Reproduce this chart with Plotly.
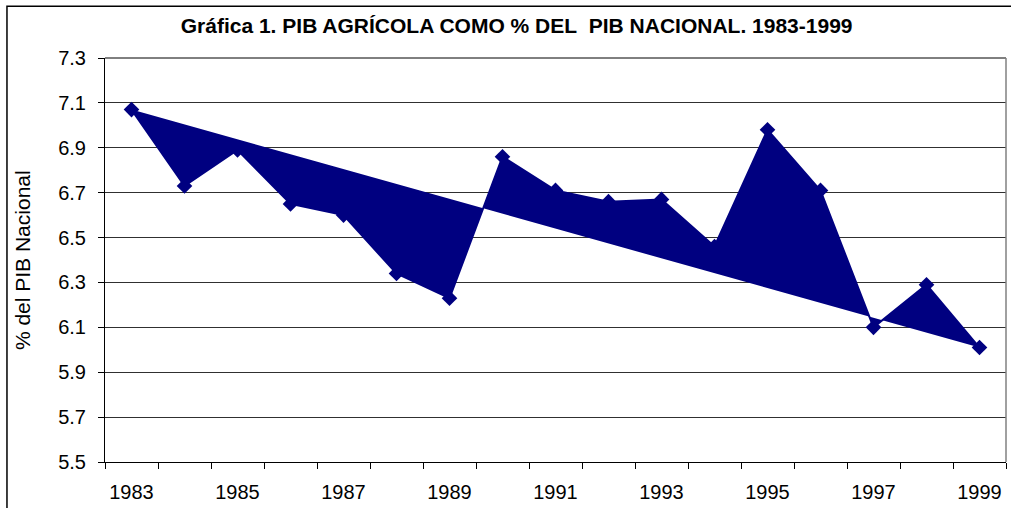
import plotly.graph_objects as go

# PIB agrícola como % del PIB nacional
years = [1983, 1984, 1985, 1986, 1987, 1988, 1989, 1990, 1991,
         1992, 1993, 1994, 1995, 1996, 1997, 1998, 1999]
pib_pct = [7.07, 6.73, 6.89, 6.65, 6.60, 6.34, 6.23, 6.86, 6.71,
           6.66, 6.67, 6.46, 6.98, 6.71, 6.10, 6.29, 6.01]

y_ticks = [5.5, 5.7, 5.9, 6.1, 6.3, 6.5, 6.7, 6.9, 7.1, 7.3]
x_labels = [1983, 1985, 1987, 1989, 1991, 1993, 1995, 1997, 1999]

navy = "#000080"
font = "Liberation Sans, Arial, sans-serif"

fig = go.Figure()
fig.add_trace(go.Scatter(
    x=years, y=pib_pct,
    mode="lines+markers",
    fill="toself", fillcolor=navy,
    line=dict(color=navy, width=2),
    marker=dict(symbol="diamond", size=12, color=navy),
    hoverinfo="x+y",
))

fig.update_layout(
    width=1011, height=508,
    margin=dict(l=105, r=5, t=58, b=43),
    paper_bgcolor="white", plot_bgcolor="white",
    showlegend=False,
    font=dict(family=font, color="black", size=20),
    title=dict(
        text="Gráfica 1. PIB AGRÍCOLA COMO % DEL\u00a0 PIB NACIONAL. 1983-1999",
        font=dict(family=font, size=21, color="black", weight="bold"),
        x=0.511, xanchor="center", y=0.95, yanchor="middle",
    ),
)

fig.update_xaxes(
    range=[1982.5, 1999.5],
    tickvals=x_labels, ticktext=[str(v) for v in x_labels],
    ticks="", ticklabelstandoff=12,
    minor=dict(tick0=1982.5, dtick=1, ticks="outside", ticklen=6,
               tickcolor="black", showgrid=False),
    showgrid=False, showline=True, linecolor="black", linewidth=1,
    zeroline=False, fixedrange=True,
)

fig.update_yaxes(
    range=[5.5, 7.3],
    tickvals=y_ticks, ticktext=[f"{v:.1f}" for v in y_ticks],
    ticks="outside", ticklen=6, tickcolor="black", ticklabelstandoff=8,
    showgrid=True, gridcolor="#303030", gridwidth=1,
    showline=True, linecolor="black", linewidth=1,
    zeroline=False, fixedrange=True,
)

fig.add_annotation(
    text="% del PIB Nacional", textangle=-90,
    xref="paper", yref="paper", x=-0.092, y=0.5,
    xanchor="center", yanchor="middle", showarrow=False,
    font=dict(family=font, size=21, color="black"),
)

# plot area top / right edges
fig.add_shape(type="line", xref="paper", yref="paper", x0=0, x1=1, y0=1, y1=1,
              line=dict(color="black", width=1))
fig.add_shape(type="line", xref="paper", yref="paper", x0=1, x1=1, y0=0, y1=1,
              line=dict(color="#808080", width=1.5))
# chart border
fig.add_shape(type="rect", xref="paper", yref="paper",
              x0=-0.1088, x1=1.02, y0=-0.2, y1=1.128,
              line=dict(color="black", width=1.5), layer="below")

fig.write_html("out.html", config={"displayModeBar": False},
               post_script="document.body.style.margin = '0';")
